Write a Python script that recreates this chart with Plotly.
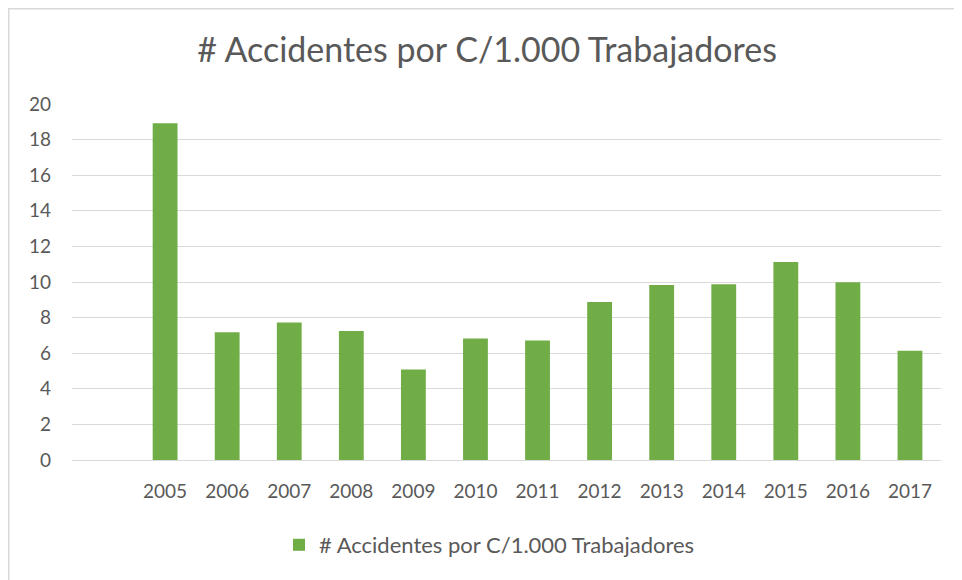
import plotly.graph_objects as go

years = [2005, 2006, 2007, 2008, 2009, 2010, 2011, 2012, 2013, 2014, 2015, 2016, 2017]
accidents = [18.92, 7.17, 7.73, 7.25, 5.09, 6.83, 6.72, 8.88, 9.83, 9.87, 11.12, 9.98, 6.14]
series_name = "# Accidentes por C/1.000 Trabajadores"
title_text = "# Accidentes por C/1.000 Trabajadores"
y_ticks = [0, 2, 4, 6, 8, 10, 12, 14, 16, 18, 20]

# page body has an 8px margin; figure coordinates are page coordinates minus 8
OFF = 8
W, H = 962 - OFF, 580 - OFF
L = 72 - OFF
R = W - (941 - OFF)
T = 104 - OFF
B = H - (460 - OFF)
pw = W - L - R
ph = H - T - B

FONT = "Lato, Calibri, Carlito, sans-serif"
GRAY = "#595959"

fig = go.Figure()
fig.add_trace(go.Bar(
    x=years, y=accidents, name=series_name,
    marker=dict(color="#70AD47", line=dict(width=0)),
    width=0.4, showlegend=True,
))


def px2paper_x(px):
    return (px - OFF - L) / pw


def px2paper_y(py):
    return (H - B - (py - OFF)) / ph


# chart border (left and top visible)
fig.add_shape(type="line", xref="paper", yref="paper",
              x0=px2paper_x(8.75), x1=px2paper_x(8.75), y0=px2paper_y(8.75), y1=px2paper_y(590),
              line=dict(color="#d9d9d9", width=1.5))
fig.add_shape(type="line", xref="paper", yref="paper",
              x0=px2paper_x(8), x1=px2paper_x(975), y0=px2paper_y(8.75), y1=px2paper_y(8.75),
              line=dict(color="#d9d9d9", width=1.5))

fig.update_layout(
    width=W, height=H,
    margin=dict(l=L, r=R, t=T, b=B, autoexpand=False),
    paper_bgcolor="white", plot_bgcolor="white",
    title=dict(text=title_text, x=(487 - OFF) / W, xref="container", xanchor="center",
               y=1 - (50 - OFF) / H, yref="container", yanchor="middle",
               font=dict(family=FONT, size=34, color=GRAY)),
    font=dict(family=FONT, color=GRAY),
    showlegend=True,
    legend=dict(orientation="h", x=(293 - OFF - 14) / W, xref="container", xanchor="left",
                y=1 - (545 - OFF) / H, yref="container", yanchor="middle",
                font=dict(family=FONT, size=22, color=GRAY),
                itemwidth=30),
    bargap=0.6,
)
fig.update_xaxes(
    range=[2003.5, 2017.5], tickmode="array", tickvals=years,
    ticktext=[str(y) for y in years],
    showgrid=False, zeroline=False, showline=False,
    ticks="", ticklabelstandoff=18,
    tickfont=dict(family=FONT, size=19, color=GRAY),
    fixedrange=True,
)
fig.update_yaxes(
    range=[0, 20], tickmode="array", tickvals=y_ticks,
    showgrid=True, gridcolor="#d9d9d9", gridwidth=1,
    zeroline=True, zerolinecolor="#d9d9d9", zerolinewidth=1,
    showline=False, ticks="", ticklabelstandoff=20,
    tickfont=dict(family=FONT, size=19, color=GRAY),
    fixedrange=True,
)

fig.write_html("out.html")
